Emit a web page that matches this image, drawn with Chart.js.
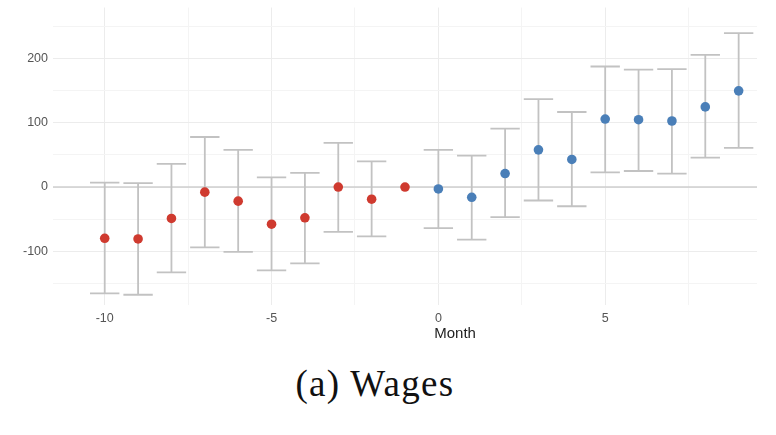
<!DOCTYPE html>
<html>
<head>
<meta charset="utf-8">
<script src="https://cdn.jsdelivr.net/npm/chart.js@4.4.1/dist/chart.umd.min.js"></script>
<style>
  html, body { margin: 0; padding: 0; background: #fff; overflow: hidden; }
  #wrap { position: relative; width: 776px; height: 435px; overflow: hidden; }
  #chart-box { position: absolute; left: 0; top: -5px; width: 776px; height: 355px; }
  #caption {
    position: absolute; left: 0; top: 362px; width: 750px; text-align: center;
    font-family: 'Liberation Serif', 'DejaVu Serif', serif; font-size: 37px; color: #111;
    letter-spacing: 1.3px;
  }
</style>
</head>
<body>
<div id="wrap">
  <div id="chart-box"><canvas id="wages"></canvas></div>
  <div id="caption">(a) Wages</div>
</div>
<script>
// months relative to event
const months = [-10, -9, -8, -7, -6, -5, -4, -3, -2, -1, 0, 1, 2, 3, 4, 5, 6, 7, 8, 9];
const estimates = [-80, -81, -49, -8, -22, -58, -48, 0, -19, 0, -3, -16, 21, 58, 43, 106, 105, 103, 125, 150];
const upperCI = [7, 6, 36, 78, 58, 15, 22, 69, 40, null, 58, 49, 91, 137, 117, 188, 183, 184, 206, 240];
const lowerCI = [-166, -168, -133, -94, -101, -130, -119, -70, -77, null, -64, -82, -47, -21, -30, 23, 25, 21, 46, 61];
const xTicks = [-10, -7.5, -5, -2.5, 0, 2.5, 5, 7.5];
const yTicks = [-150, -100, -50, 0, 50, 100, 150, 200, 250];

const RED = '#cf3a2f';
const BLUE = '#4a7fb8';

const prePoints = [];
const postPoints = [];
months.forEach((m, i) => {
    const p = { x: m, y: estimates[i] };
    if (m < 0) prePoints.push(p); else postPoints.push(p);
});

// draws error bars and the zero line underneath the points
const errorBarPlugin = {
    id: 'errorBars',
    beforeDatasetsDraw(chart) {
        const { ctx, chartArea, scales: { x, y } } = chart;
        ctx.save();
        // zero reference line
        ctx.strokeStyle = '#cfcfcf';
        ctx.lineWidth = 1.5;
        ctx.beginPath();
        ctx.moveTo(chartArea.left, y.getPixelForValue(0));
        ctx.lineTo(chartArea.right, y.getPixelForValue(0));
        ctx.stroke();

        ctx.strokeStyle = '#c2c2c2';
        ctx.lineWidth = 1.8;
        months.forEach((m, i) => {
            if (upperCI[i] === null) return;
            const cx = x.getPixelForValue(m);
            const x0 = x.getPixelForValue(m - 0.44);
            const x1 = x.getPixelForValue(m + 0.44);
            const yTop = y.getPixelForValue(upperCI[i]);
            const yBot = y.getPixelForValue(lowerCI[i]);
            ctx.beginPath();
            ctx.moveTo(cx, yTop); ctx.lineTo(cx, yBot);
            ctx.moveTo(x0, yTop); ctx.lineTo(x1, yTop);
            ctx.moveTo(x0, yBot); ctx.lineTo(x1, yBot);
            ctx.stroke();
        });
        ctx.restore();
    },
    afterDraw(chart) {
        const { ctx, chartArea, scales: { x } } = chart;
        ctx.save();
        ctx.font = "15px 'Liberation Sans', Arial, sans-serif";
        ctx.fillStyle = '#1e1e1e';
        ctx.textAlign = 'center';
        ctx.textBaseline = 'alphabetic';
        ctx.fillText('Month', x.getPixelForValue(0.5), chartArea.bottom + 33);
        ctx.restore();
    }
};

new Chart(document.getElementById('wages'), {
    type: 'scatter',
    data: {
        datasets: [
            { data: prePoints, backgroundColor: RED, borderColor: RED, pointRadius: 4.8, pointHoverRadius: 4.8, borderWidth: 0 },
            { data: postPoints, backgroundColor: BLUE, borderColor: BLUE, pointRadius: 4.8, pointHoverRadius: 4.8, borderWidth: 0 }
        ]
    },
    options: {
        responsive: true,
        maintainAspectRatio: false,
        animation: false,
        layout: { padding: { top: 0, right: 19, left: 0, bottom: 0 } },
        plugins: {
            legend: { display: false },
            tooltip: { enabled: false }
        },
        scales: {
            x: {
                type: 'linear',
                min: -11.55,
                max: 9.55,
                afterBuildTicks: (scale) => { scale.ticks = xTicks.map(v => ({ value: v })); },
                afterFit: (scale) => { scale.height = 45; },
                border: { display: false },
                grid: {
                    drawTicks: false,
                    lineWidth: 1,
                    color: (c) => (c.tick && c.tick.value % 5 === 0) ? '#ececec' : '#f4f4f4'
                },
                ticks: {
                    padding: 6,
                    color: '#555',
                    font: { family: "'Liberation Sans', Arial, sans-serif", size: 12.5 },
                    callback: (v) => (v % 5 === 0 ? String(v) : '')
                }
            },
            y: {
                min: -184,
                max: 280,
                afterBuildTicks: (scale) => { scale.ticks = yTicks.map(v => ({ value: v })); },
                afterFit: (scale) => { scale.width = 53; },
                border: { display: false },
                grid: {
                    drawTicks: false,
                    lineWidth: 1,
                    color: (c) => (c.tick && c.tick.value % 100 === 0) ? '#ececec' : '#f4f4f4'
                },
                ticks: {
                    padding: 5,
                    color: '#555',
                    font: { family: "'Liberation Sans', Arial, sans-serif", size: 12.5 },
                    callback: (v) => (v % 100 === 0 ? String(v) : '')
                }
            }
        }
    },
    plugins: [errorBarPlugin]
});
</script>
</body>
</html>
